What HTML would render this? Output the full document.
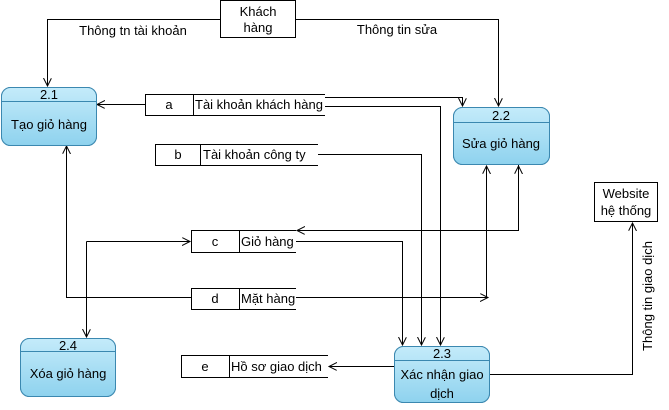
<!DOCTYPE html>
<html><head><meta charset="utf-8"><style>
html,body{margin:0;padding:0;background:#fff;}
svg{display:block;font-family:"Liberation Sans","DejaVu Sans",sans-serif;}
</style></head><body>
<svg width="669" height="410" viewBox="0 0 669 410" xmlns="http://www.w3.org/2000/svg">
<defs>
<linearGradient id="g" x1="0" y1="0" x2="0" y2="1">
<stop offset="0" stop-color="#c4ebfa"/><stop offset="1" stop-color="#8ed2ee"/></linearGradient>
<filter id="s" x="-20%" y="-20%" width="150%" height="150%"><feGaussianBlur in="SourceAlpha" stdDeviation="3"/><feOffset dx="4" dy="5"/><feComponentTransfer><feFuncA type="linear" slope="0.45"/></feComponentTransfer><feFlood flood-color="#3a7fa8"/><feComposite operator="in" in2="SourceAlpha"/><feMerge><feMergeNode/><feMergeNode in="SourceGraphic"/></feMerge></filter>
<marker id="a" markerWidth="10" markerHeight="10" refX="8" refY="4" orient="auto" markerUnits="userSpaceOnUse"><path d="M0,0 L8,4 L0,8" fill="none" stroke="#000" stroke-width="1"/></marker>
</defs>
<g fill="none" stroke="#000" stroke-width="1">
<polyline points="220.5,19.5 47.5,19.5 47.5,86" marker-end="url(#a)"/>
<polyline points="295.5,19.5 498.5,19.5 498.5,106" marker-end="url(#a)"/>
<line x1="145" y1="104.5" x2="97" y2="104.5" marker-end="url(#a)"/>
<polyline points="325,97.5 462.5,97.5 462.5,106" marker-end="url(#a)"/>
<polyline points="325,106.5 440.5,106.5 440.5,345" marker-end="url(#a)"/>
<polyline points="318,154.5 421.5,154.5 421.5,345" marker-end="url(#a)"/>
<polyline points="518.5,165 518.5,230.5 297,230.5" marker-end="url(#a)"/>
<line x1="518.5" y1="230.5" x2="518.5" y2="166" marker-end="url(#a)"/>
<polyline points="296,241.5 402.5,241.5 402.5,345" marker-end="url(#a)"/>
<polyline points="86.5,241.5 190,241.5" marker-end="url(#a)"/>
<line x1="86.5" y1="241.5" x2="86.5" y2="337" marker-end="url(#a)"/>
<polyline points="191,297.5 66.5,297.5 66.5,146" marker-end="url(#a)"/>
<line x1="296" y1="297.5" x2="488" y2="297.5" marker-end="url(#a)"/>
<line x1="486.5" y1="297.5" x2="486.5" y2="166" marker-end="url(#a)"/>
<line x1="394" y1="366.5" x2="329" y2="366.5" marker-end="url(#a)"/>
<polyline points="489,374.5 632.5,374.5 632.5,223" marker-end="url(#a)"/>
<rect x="220.5" y="0.5" width="75" height="37"/>
<rect x="594.5" y="182.5" width="63" height="39"/>
<polyline points="325,94.5 145.5,94.5 145.5,115.5 325,115.5"/><line x1="193.5" y1="94.5" x2="193.5" y2="115.5"/>
<polyline points="318,144.5 155.5,144.5 155.5,165.5 318,165.5"/><line x1="200.5" y1="144.5" x2="200.5" y2="165.5"/>
<polyline points="296,230.5 191.5,230.5 191.5,252.5 296,252.5"/><line x1="239.5" y1="230.5" x2="239.5" y2="252.5"/>
<polyline points="296,288.5 191.5,288.5 191.5,309.5 296,309.5"/><line x1="239.5" y1="288.5" x2="239.5" y2="309.5"/>
<polyline points="328,355.5 181.5,355.5 181.5,377.5 328,377.5"/><line x1="229.5" y1="355.5" x2="229.5" y2="377.5"/>
</g>
<g stroke="#3a88b0" stroke-width="1" fill="url(#g)" filter="url(#s)">
<rect x="1.5" y="87.5" width="95" height="58" rx="9"/>
<rect x="453.5" y="107.5" width="96" height="57" rx="9"/>
<rect x="20.5" y="338.5" width="95" height="58" rx="9"/>
<rect x="394.5" y="346.5" width="95" height="56" rx="9"/>
</g>
<g stroke="#3a88b0" stroke-width="1">
<line x1="1.5" y1="101.5" x2="96.5" y2="101.5"/>
<line x1="453.5" y1="122.5" x2="549.5" y2="122.5"/>
<line x1="20.5" y1="351.5" x2="115.5" y2="351.5"/>
<line x1="394.5" y1="360.5" x2="489.5" y2="360.5"/>
</g>
<g font-size="13" fill="#000" text-anchor="middle">
<text x="258" y="16">Khách</text><text x="258" y="32">hàng</text>
<text x="626" y="198">Website</text><text x="626" y="215">hệ thống</text>
<text x="133" y="35">Thông tn tài khoản</text>
<text x="397" y="34">Thông tin sửa</text>
<text x="0" y="0" transform="translate(652,296) rotate(-90)">Thông tin giao dịch</text>
<text x="49" y="99">2.1</text><text x="49" y="129">Tạo giỏ hàng</text>
<text x="501" y="120">2.2</text><text x="501" y="148">Sửa giỏ hàng</text>
<text x="68" y="350">2.4</text><text x="68" y="378">Xóa giỏ hàng</text>
<text x="442" y="358">2.3</text><text x="442" y="379">Xác nhận giao</text><text x="442" y="398">dịch</text>
<text x="169" y="109">a</text><text x="178" y="159">b</text><text x="215" y="246">c</text><text x="215" y="303">d</text><text x="205" y="371">e</text>
</g>
<g font-size="13" fill="#000">
<text x="195" y="109">Tài khoản khách hàng</text>
<text x="203" y="159">Tài khoản công ty</text>
<text x="241" y="246">Giỏ hàng</text>
<text x="241" y="303">Mặt hàng</text>
<text x="231" y="371">Hồ sơ giao dịch</text>
</g>
</svg>
</body></html>
